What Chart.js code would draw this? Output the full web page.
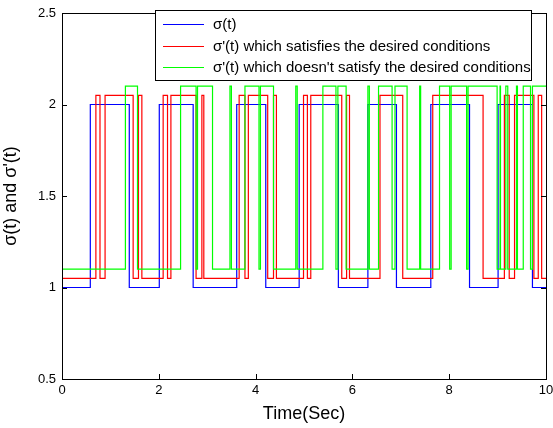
<!DOCTYPE html>
<html>
<head>
<meta charset="utf-8">
<script src="https://cdn.jsdelivr.net/npm/chart.js@4.4.1/dist/chart.umd.min.js"></script>
<style>
  body { margin: 0; background: #fff; }
  canvas { display: block; }
</style>
</head>
<body>
<canvas id="chartStep" width="553" height="428"></canvas>
<script>
// switching times (sec) and levels, each level holds until the next time
const sigmaTimes = [0, 0.585, 1.39, 2.01, 2.71, 3.61, 4.21, 4.90, 5.71, 6.32, 6.91, 7.62, 8.42, 9.01, 9.72, 10];
const sigmaLevels = [1, 2, 1, 2, 1, 2, 1, 2, 1, 2, 1, 2, 1, 2, 1, 1];

const goodTimes = [0, 0.70, 0.785, 0.89, 1.47, 1.58, 1.65, 2.09, 2.18, 2.25, 2.77, 2.89, 2.93, 3.66, 3.78, 3.85,
  4.25, 4.37, 4.43, 4.99, 5.07, 5.14, 5.78, 5.88, 5.94, 6.57, 7.04, 7.66, 8.70, 9.14, 9.24, 9.35, 9.75, 9.84, 9.91, 10];
const goodLevels = [1.05, 2.05, 1.05, 2.05, 1.05, 2.05, 1.05, 2.05, 1.05, 2.05, 1.05, 2.05, 1.05, 2.05, 1.05, 2.05,
  1.05, 2.05, 1.05, 2.05, 1.05, 2.05, 1.05, 2.05, 1.05, 2.05, 1.05, 2.05, 1.05, 2.05, 1.05, 2.05, 1.05, 2.05, 1.05, 1.05];

const badTimes = [0, 1.31, 1.56, 2.45, 2.77, 2.80, 3.11, 3.47, 3.50, 3.78, 4.07, 4.10, 4.37, 4.83, 4.86, 5.39,
  5.66, 5.70, 5.87, 6.32, 6.35, 6.54, 6.82, 6.88, 7.13, 7.39, 7.41, 7.80, 8.01, 8.04, 8.36, 8.39,
  8.99, 9.05, 9.06, 9.17, 9.21, 9.39, 9.41, 9.53, 9.68, 9.72, 10];
const badLevels = [1.1, 2.1, 1.1, 2.1, 1.1, 2.1, 1.1, 2.1, 1.1, 2.1, 1.1, 2.1, 1.1, 2.1, 1.1, 2.1,
  1.1, 2.1, 1.1, 2.1, 1.1, 2.1, 1.1, 2.1, 1.1, 2.1, 1.1, 2.1, 1.1, 2.1, 1.1, 2.1,
  1.1, 2.1, 1.1, 2.1, 1.1, 2.1, 1.1, 2.1, 1.1, 2.1, 2.1];

const xTicks = [0, 2, 4, 6, 8, 10];
const yTicks = [0.5, 1, 1.5, 2, 2.5];

const seriesNames = [
  'σ(t)',
  'σ\'(t) which satisfies the desired conditions',
  'σ\'(t) which doesn\'t satisfy the desired conditions'
];
const seriesColors = ['#0000ff', '#ff0000', '#00ff00'];

const FONT = "'Liberation Sans', Arial, Helvetica, sans-serif";

function toPoints(times, levels) {
  return times.map((t, i) => ({ x: t, y: levels[i] }));
}

// frame, inward ticks and boxed legend, matlab style
const matlabFrame = {
  id: 'matlabFrame',
  afterDraw(chart) {
    const ctx = chart.ctx;
    const a = chart.chartArea;
    const xs = chart.scales.x;
    const ys = chart.scales.y;
    ctx.save();
    ctx.strokeStyle = '#000';
    ctx.lineWidth = 1;
    ctx.strokeRect(Math.round(a.left) + 0.5, Math.round(a.top) + 0.5,
      Math.round(a.right - a.left), Math.round(a.bottom - a.top));
    ctx.beginPath();
    xTicks.forEach(v => {
      const px = Math.round(xs.getPixelForValue(v)) + 0.5;
      ctx.moveTo(px, a.bottom); ctx.lineTo(px, a.bottom - 5);
      ctx.moveTo(px, a.top); ctx.lineTo(px, a.top + 5);
    });
    yTicks.forEach(v => {
      const py = Math.round(ys.getPixelForValue(v)) + 0.5;
      ctx.moveTo(a.left, py); ctx.lineTo(a.left + 5, py);
      ctx.moveTo(a.right, py); ctx.lineTo(a.right - 5, py);
    });
    ctx.stroke();

    // legend
    const box = { x: 155.5, y: 10.5, w: 376, h: 70 };
    ctx.fillStyle = '#fff';
    ctx.fillRect(box.x, box.y, box.w, box.h);
    ctx.strokeRect(box.x, box.y, box.w, box.h);
    const rows = [24, 46, 67];
    ctx.font = '15px ' + FONT;
    ctx.textBaseline = 'middle';
    ctx.textAlign = 'left';
    seriesNames.forEach((name, i) => {
      ctx.strokeStyle = seriesColors[i];
      ctx.beginPath();
      ctx.moveTo(163, rows[i] + 0.5);
      ctx.lineTo(204, rows[i] + 0.5);
      ctx.stroke();
      ctx.fillStyle = '#000';
      ctx.fillText(name, 213, rows[i] + 1);
    });
    ctx.restore();
  }
};

function chartStep() {
  const ctx = document.getElementById('chartStep');
  const series = [
    toPoints(sigmaTimes, sigmaLevels),
    toPoints(goodTimes, goodLevels),
    toPoints(badTimes, badLevels)
  ];
  const chart = new Chart(ctx, {
    type: 'line',
    data: {
      datasets: series.map((pts, i) => ({
        label: seriesNames[i],
        data: pts,
        borderColor: seriesColors[i],
        borderWidth: 1.2,
        pointRadius: 0,
        stepped: true,
        fill: false,
        order: 2 - i
      }))
    },
    options: {
      responsive: false,
      animation: false,
      devicePixelRatio: 1,
      layout: {
        padding: { left: 0, right: 7, top: 13, bottom: 0 }
      },
      plugins: {
        legend: { display: false },
        tooltip: { enabled: false }
      },
      scales: {
        x: {
          type: 'linear',
          min: 0,
          max: 10,
          afterBuildTicks(scale) {
            scale.ticks = xTicks.map(v => ({ value: v }));
          },
          afterFit(scale) {
            scale.height = 49;
            scale.paddingLeft = 0;
            scale.paddingRight = 0;
          },
          grid: { display: false, drawTicks: false },
          border: { display: false },
          ticks: {
            color: '#000',
            padding: 4,
            maxRotation: 0,
            font: { family: FONT, size: 13 }
          },
          title: {
            display: true,
            text: 'Time(Sec)',
            color: '#000',
            padding: { top: 0, bottom: 3 },
            font: { family: FONT, size: 18 }
          }
        },
        y: {
          min: 0.5,
          max: 2.5,
          afterBuildTicks(scale) {
            scale.ticks = yTicks.map(v => ({ value: v }));
          },
          afterFit(scale) {
            scale.width = 62;
            scale.paddingTop = 0;
            scale.paddingBottom = 0;
          },
          grid: { display: false, drawTicks: false },
          border: { display: false },
          ticks: {
            color: '#000',
            padding: 6,
            font: { family: FONT, size: 13 },
            callback: v => String(v)
          },
          title: {
            display: true,
            text: 'σ(t) and σ\'(t)',
            color: '#000',
            padding: { top: 0, bottom: 7 },
            font: { family: FONT, size: 18 }
          }
        }
      }
    },
    plugins: [matlabFrame]
  });
}

chartStep();
</script>
</body>
</html>
